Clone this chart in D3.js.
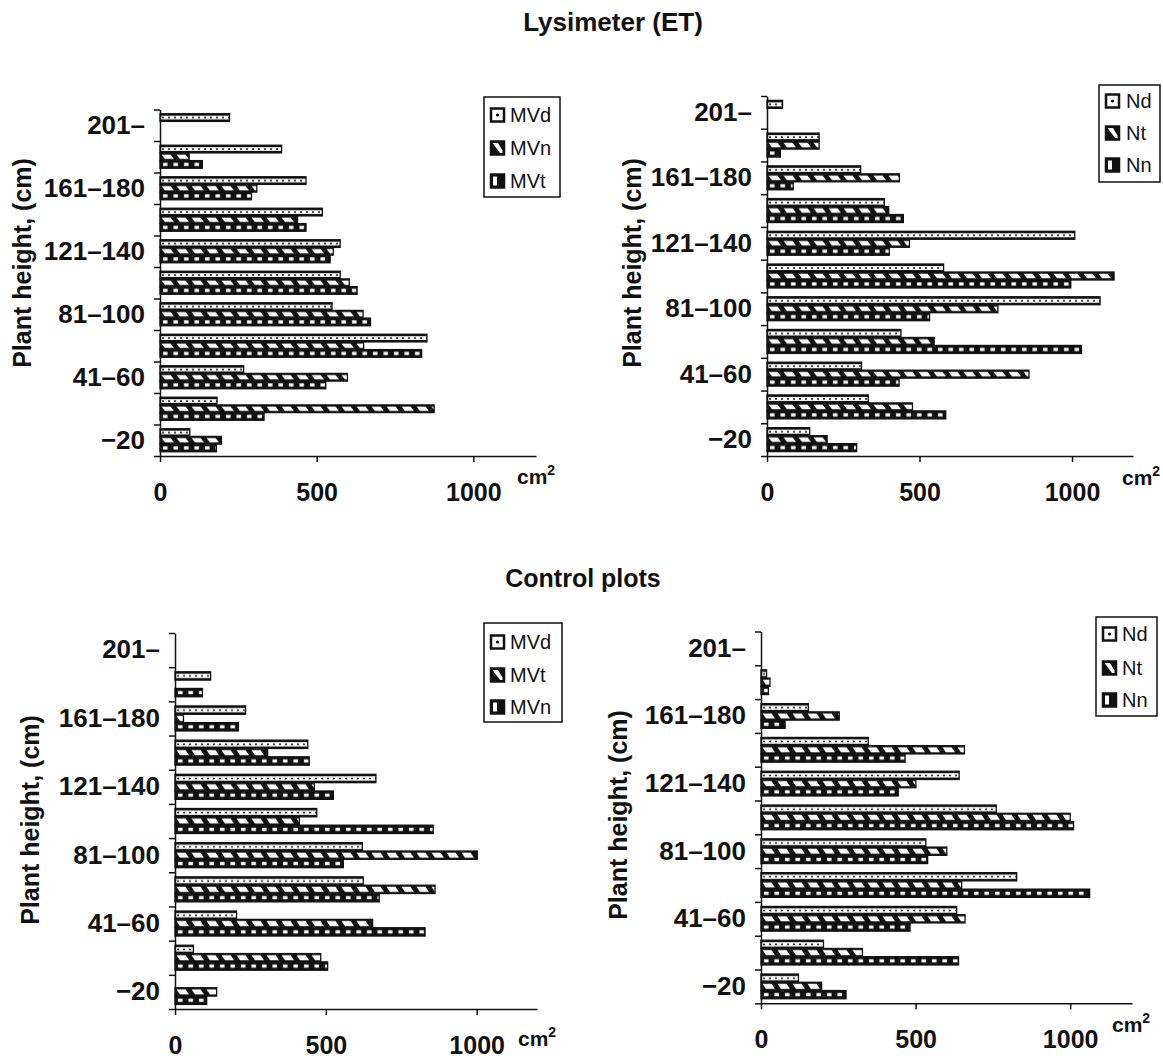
<!DOCTYPE html>
<html>
<head>
<meta charset="utf-8">
<script src="https://cdn.jsdelivr.net/npm/d3@7"></script>
<style>
  body { margin: 0; background: #fff; }
  svg { font-family: "Liberation Sans", Arial, Helvetica, sans-serif; }
</style>
</head>
<body>
<svg id="chart" width="1163" height="1059"></svg>
<script>
// height classes, from the bottom of the axis to the top
const categories = ["−20", "21–40", "41–60", "61–80", "81–100", "101–120",
  "121–140", "141–160", "161–180", "181–200", "201–"];
const tickLabels = ["−20", "41–60", "81–100", "121–140", "161–180", "201–"];
const xTicks = [0, 500, 1000];
const xMax = 1200;

// Lysimeter (ET), leaf area in cm2
const lysMVd = [95, 182, 267, 852, 549, 575, 575, 518, 466, 388, 222];
const lysMVn = [196, 875, 598, 650, 648, 604, 553, 439, 309, 93, 0];
const lysMVt = [180, 332, 529, 835, 672, 629, 543, 466, 292, 135, 0];

const lysNd = [140, 332, 310, 439, 1092, 579, 1009, 385, 307, 171, 51];
const lysNt = [197, 477, 859, 548, 757, 1138, 467, 399, 434, 171, 0];
const lysNn = [294, 586, 433, 1031, 533, 996, 401, 447, 86, 44, 0];

// Control plots
const ctlMVd = [0, 61, 204, 624, 621, 470, 666, 440, 234, 118, 0];
const ctlMVt = [138, 483, 655, 862, 1002, 412, 462, 307, 28, 0, 0];
const ctlMVn = [105, 506, 829, 677, 558, 856, 525, 445, 210, 91, 0];

const ctlNd = [121, 202, 633, 827, 533, 761, 641, 347, 153, 18, 0];
const ctlNt = [196, 328, 660, 649, 601, 1000, 501, 658, 253, 29, 0];
const ctlNn = [275, 639, 482, 1063, 539, 1011, 444, 466, 78, 24, 0];

// panel layout: series listed top bar first, with the fill style of each
const panels = [
  {
    id: "p1", x: [160, 536], y: [109.5, 456],
    series: [
      { name: "MVd", values: lysMVd, fill: "dot" },
      { name: "MVn", values: lysMVn, fill: "diag" },
      { name: "MVt", values: lysMVt, fill: "dash" }
    ],
    legend: { x: 484, y: 97, w: 76, h: 100, rowY: [115, 148, 181], iconX: 491, textX: 510 },
    ylab: { x: 22, y: 263 }, cm: { x: 517, y: 484 }
  },
  {
    id: "p2", x: [767, 1133], y: [96, 456],
    series: [
      { name: "Nd", values: lysNd, fill: "dot" },
      { name: "Nt", values: lysNt, fill: "diag" },
      { name: "Nn", values: lysNn, fill: "dash" }
    ],
    legend: { x: 1099, y: 85, w: 61, h: 97, rowY: [101, 133, 165], iconX: 1106, textX: 1126 },
    ylab: { x: 632, y: 263 }, cm: { x: 1122, y: 485 }
  },
  {
    id: "p3", x: [175, 537], y: [633, 1009],
    series: [
      { name: "MVd", values: ctlMVd, fill: "dot" },
      { name: "MVt", values: ctlMVt, fill: "diag" },
      { name: "MVn", values: ctlMVn, fill: "dash" }
    ],
    legend: { x: 484, y: 623, w: 78, h: 99, rowY: [642, 675, 707], iconX: 491, textX: 510 },
    ylab: { x: 30, y: 820 }, cm: { x: 518, y: 1046 }
  },
  {
    id: "p4", x: [761, 1132], y: [631.5, 1003.3],
    series: [
      { name: "Nd", values: ctlNd, fill: "dot" },
      { name: "Nt", values: ctlNt, fill: "diag" },
      { name: "Nn", values: ctlNn, fill: "dash" }
    ],
    legend: { x: 1096, y: 617, w: 61, h: 99, rowY: [634, 668, 700], iconX: 1103, textX: 1122 },
    ylab: { x: 618, y: 815 }, cm: { x: 1112, y: 1032 }
  }
];

const svg = d3.select("#chart");
const defs = svg.append("defs");

// fill patterns, one set per panel because bar heights differ a little
function makePatterns(id, h) {
  const dot = defs.append("pattern")
    .attr("id", `${id}-dot`)
    .attr("patternUnits", "userSpaceOnUse")
    .attr("width", 6).attr("height", h);
  dot.append("rect").attr("width", 6).attr("height", h).attr("fill", "#111");
  dot.append("rect").attr("y", 2).attr("width", 6).attr("height", h - 4).attr("fill", "#fff");
  dot.append("circle").attr("cx", 3).attr("cy", h / 2).attr("r", 1).attr("fill", "#111");

  const diag = defs.append("pattern")
    .attr("id", `${id}-diag`)
    .attr("patternUnits", "userSpaceOnUse")
    .attr("width", 15).attr("height", h);
  diag.append("rect").attr("width", 15).attr("height", h).attr("fill", "#111");
  diag.append("polygon")
    .attr("points", `1.5,1.7 10.5,1.7 14,${h - 1.7} 5,${h - 1.7}`)
    .attr("fill", "#fff");

  const dash = defs.append("pattern")
    .attr("id", `${id}-dash`)
    .attr("patternUnits", "userSpaceOnUse")
    .attr("width", 10.5).attr("height", h);
  dash.append("rect").attr("width", 10.5).attr("height", h).attr("fill", "#111");
  dash.append("rect")
    .attr("x", 3).attr("y", h / 2 - 1.6)
    .attr("width", 4.5).attr("height", 3.2)
    .attr("fill", "#fff");
}

// draw one panel
function drawPanel(p) {
  const g = svg.append("g").attr("class", p.id);

  const xScale = d3.scaleLinear()
    .domain([0, xMax])
    .range(p.x);

  const yScale = d3.scaleBand()
    .domain(categories.slice().reverse())
    .range(p.y);

  const yIndex = d3.scaleLinear()
    .domain([0, categories.length])
    .range([p.y[1], p.y[0]]);

  const inner = d3.scaleBand()
    .domain(p.series.map(s => s.name))
    .range([0, yScale.bandwidth()])
    .paddingOuter(0.55);

  makePatterns(p.id, inner.bandwidth());

  // bars
  p.series.forEach(s => {
    const rows = categories.map((c, i) => ({ cat: c, value: s.values[i] }))
      .filter(d => d.value > 0);

    g.selectAll(`.bar-${s.name}`)
      .data(rows)
      .enter()
      .append("g")
        .attr("transform", d => `translate(${xScale(0)},${yScale(d.cat) + inner(s.name)})`)
      .append("rect")
        .attr("width", d => xScale(d.value) - xScale(0))
        .attr("height", inner.bandwidth())
        .attr("fill", `url(#${p.id}-${s.fill})`)
        .attr("stroke", "#111")
        .attr("stroke-width", 1.3);
  });

  // x axis
  const xAxis = g.append("g")
    .attr("transform", `translate(0,${p.y[1]})`)
    .call(d3.axisBottom(xScale)
      .tickValues(xTicks)
      .tickSize(6)
      .tickSizeOuter(0)
      .tickPadding(21)
      .tickFormat(d3.format("d")));

  // y axis: ticks on class boundaries
  const yTicks = g.append("g")
    .attr("transform", `translate(${p.x[0]},0)`)
    .call(d3.axisLeft(yIndex)
      .tickValues(d3.range(categories.length + 1))
      .tickSize(6)
      .tickSizeOuter(0)
      .tickFormat(""));

  // y labels: every other class
  const yLabels = g.append("g")
    .attr("transform", `translate(${p.x[0]},0)`)
    .call(d3.axisLeft(yScale)
      .tickValues(tickLabels)
      .tickSize(0)
      .tickPadding(15));
  yLabels.select(".domain").remove();

  [xAxis, yTicks].forEach(a => {
    a.selectAll("path, line").attr("stroke", "#111").attr("stroke-width", 1.5);
  });
  [xAxis, yLabels].forEach(a => {
    a.selectAll("text")
      .attr("fill", "#111")
      .attr("font-size", 25)
      .attr("font-weight", "bold")
      .attr("font-family", "'Liberation Sans', Arial, sans-serif");
  });
  yLabels.selectAll("text").attr("font-size", 26);

  // axis title
  g.append("text")
    .attr("transform", `translate(${p.ylab.x},${p.ylab.y}) rotate(-90)`)
    .attr("dy", "0.35em")
    .attr("text-anchor", "middle")
    .attr("font-size", 25)
    .attr("font-weight", "bold")
    .attr("fill", "#111")
    .text("Plant height, (cm)");

  const cm = g.append("text")
    .attr("x", p.cm.x)
    .attr("y", p.cm.y)
    .attr("font-size", 21)
    .attr("font-weight", "bold")
    .attr("fill", "#111");
  cm.append("tspan").text("cm");
  cm.append("tspan").attr("font-size", 14).attr("dy", -9).text("2");

  // legend
  const lg = g.append("g");
  lg.append("rect")
    .attr("x", p.legend.x).attr("y", p.legend.y)
    .attr("width", p.legend.w).attr("height", p.legend.h)
    .attr("fill", "#fff")
    .attr("stroke", "#111")
    .attr("stroke-width", 1.5);

  const item = lg.selectAll(".item")
    .data(p.series)
    .enter()
    .append("g")
      .attr("transform", (d, i) => `translate(${p.legend.iconX},${p.legend.rowY[i]})`);

  const icon = 13;
  item.append("rect")
    .attr("y", -icon / 2)
    .attr("width", icon).attr("height", icon)
    .attr("fill", d => d.fill === "dot" ? "#fff" : "#111")
    .attr("stroke", "#111")
    .attr("stroke-width", 2.5);

  item.filter(d => d.fill === "dot")
    .append("circle")
      .attr("cx", icon / 2).attr("cy", 0).attr("r", 1.6)
      .attr("fill", "#111");

  item.filter(d => d.fill === "diag")
    .append("polygon")
      .attr("points", `1.5,${-icon / 2 + 1.5} 7,${-icon / 2 + 1.5} ${icon - 1.5},2.5 ${icon - 1.5},${icon / 2 - 1.5} 9,${icon / 2 - 1.5}`)
      .attr("fill", "#fff");

  item.filter(d => d.fill === "dash")
    .append("rect")
      .attr("x", 2).attr("y", -icon / 2 + 2)
      .attr("width", 4).attr("height", icon - 4)
      .attr("fill", "#fff");

  item.append("text")
    .attr("x", p.legend.textX - p.legend.iconX)
    .attr("dy", "0.36em")
    .attr("font-size", 20)
    .attr("fill", "#111")
    .text(d => d.name);
}

panels.forEach(drawPanel);

// section titles
svg.append("text")
  .attr("x", 613).attr("y", 31)
  .attr("text-anchor", "middle")
  .attr("font-size", 26)
  .attr("font-weight", "bold")
  .attr("fill", "#111")
  .text("Lysimeter (ET)");

svg.append("text")
  .attr("x", 583).attr("y", 587)
  .attr("text-anchor", "middle")
  .attr("font-size", 25)
  .attr("font-weight", "bold")
  .attr("fill", "#111")
  .text("Control plots");
</script>
</body>
</html>
